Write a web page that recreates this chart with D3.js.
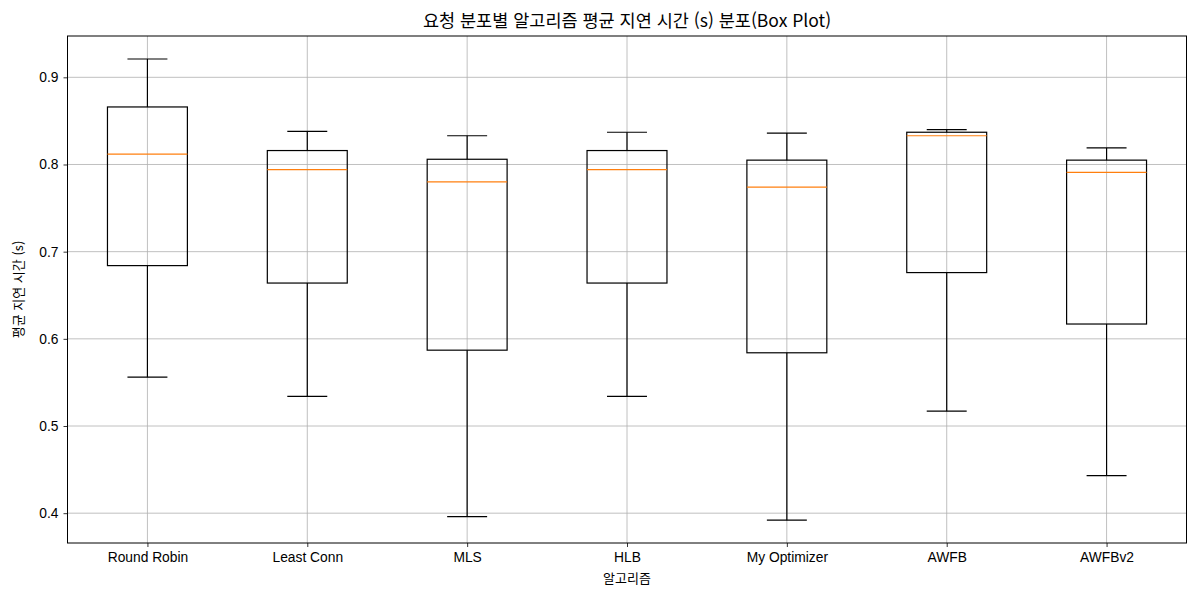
<!DOCTYPE html>
<html lang="ko">
<head>
<meta charset="UTF-8">
<title>요청 분포별 알고리즘 평균 지연 시간</title>
<style>
  body { margin: 0; background: #fff; font-family: "Noto Sans CJK KR", "Noto Sans", sans-serif; }
  svg { display: block; }
  .grid line { stroke: #b0b0b0; stroke-width: 0.8; }
  .axis text { font-size: 13.8px; fill: #000; }
</style>
</head>
<body>
<svg width="1200" height="600"></svg>
<script src="https://d3js.org/d3.v7.min.js"></script>
<script>
// box stats: whisker low, Q1, median, Q3, whisker high
const algorithms = ["Round Robin", "Least Conn", "MLS", "HLB", "My Optimizer", "AWFB", "AWFBv2"];
const whiskerLow = [0.556, 0.534, 0.396, 0.534, 0.392, 0.517, 0.443];
const q1         = [0.684, 0.664, 0.587, 0.664, 0.584, 0.676, 0.617];
const median     = [0.812, 0.794, 0.780, 0.794, 0.774, 0.833, 0.791];
const q3         = [0.866, 0.816, 0.806, 0.816, 0.805, 0.837, 0.805];
const whiskerHigh= [0.921, 0.838, 0.833, 0.837, 0.836, 0.840, 0.819];
const yTicks = [0.4, 0.5, 0.6, 0.7, 0.8, 0.9];

const svg = d3.select("svg");
const margin = { left: 67.5, right: 13.5, top: 36, bottom: 57 };
const W = 1200, H = 600;
const plotW = W - margin.left - margin.right;
const plotH = H - margin.top - margin.bottom;

const g = svg.append("g").attr("transform", `translate(${margin.left},${margin.top})`);

// positions 1..7 like matplotlib, xlim 0.5..7.5
const x = d3.scaleLinear().domain([0.5, algorithms.length + 0.5]).range([0, plotW]);
const y = d3.scaleLinear().domain([0.3658, 0.9474]).range([plotH, 0]);

// grid
const grid = g.append("g").attr("class", "grid");
grid.selectAll("line.h").data(yTicks).join("line").attr("class", "h")
  .attr("x1", 0).attr("x2", plotW)
  .attr("y1", d => y(d)).attr("y2", d => y(d));
grid.selectAll("line.v").data(algorithms).join("line").attr("class", "v")
  .attr("x1", (d, i) => x(i + 1)).attr("x2", (d, i) => x(i + 1))
  .attr("y1", 0).attr("y2", plotH);

// boxes
const boxW = x(1.5) - x(1);
const capW = x(1.25) - x(1);
const boxes = g.append("g").selectAll("g").data(algorithms).join("g")
  .attr("transform", (d, i) => `translate(${x(i + 1)},0)`);

boxes.append("line")
  .attr("x1", 0).attr("x2", 0)
  .attr("y1", (d, i) => y(whiskerLow[i])).attr("y2", (d, i) => y(q1[i]))
  .attr("stroke", "#000").attr("stroke-width", 1.2);
boxes.append("line")
  .attr("x1", 0).attr("x2", 0)
  .attr("y1", (d, i) => y(q3[i])).attr("y2", (d, i) => y(whiskerHigh[i]))
  .attr("stroke", "#000").attr("stroke-width", 1.2);
boxes.append("line")
  .attr("x1", -capW / 2).attr("x2", capW / 2)
  .attr("y1", (d, i) => y(whiskerLow[i])).attr("y2", (d, i) => y(whiskerLow[i]))
  .attr("stroke", "#000").attr("stroke-width", 1.2);
boxes.append("line")
  .attr("x1", -capW / 2).attr("x2", capW / 2)
  .attr("y1", (d, i) => y(whiskerHigh[i])).attr("y2", (d, i) => y(whiskerHigh[i]))
  .attr("stroke", "#000").attr("stroke-width", 1.2);
boxes.append("rect")
  .attr("x", -boxW / 2).attr("width", boxW)
  .attr("y", (d, i) => y(q3[i]))
  .attr("height", (d, i) => y(q1[i]) - y(q3[i]))
  .attr("fill", "none").attr("stroke", "#000").attr("stroke-width", 1.2);
boxes.append("line")
  .attr("x1", -boxW / 2).attr("x2", boxW / 2)
  .attr("y1", (d, i) => y(median[i])).attr("y2", (d, i) => y(median[i]))
  .attr("stroke", "#ff7f0e").attr("stroke-width", 1.2);

// axes
const yAxis = g.append("g").attr("class", "axis")
  .call(d3.axisLeft(y).tickValues(yTicks).tickFormat(d3.format(".1f")).tickSize(4).tickPadding(5));
const xAxis = g.append("g").attr("class", "axis")
  .attr("transform", `translate(0,${plotH})`)
  .call(d3.axisBottom(x).tickValues(d3.range(1, algorithms.length + 1))
    .tickFormat(d => algorithms[d - 1]).tickSize(4).tickPadding(5));
g.selectAll(".axis .domain").remove();
g.selectAll(".axis .tick line").attr("stroke", "#000").attr("stroke-width", 0.8);

// frame
g.append("rect").attr("width", plotW).attr("height", plotH)
  .attr("fill", "none").attr("stroke", "#000").attr("stroke-width", 1);

// labels
svg.append("text")
  .attr("x", margin.left + plotW / 2).attr("y", 27)
  .attr("text-anchor", "middle").attr("font-size", 17.5).attr("fill", "#000")
  .text("요청 분포별 알고리즘 평균 지연 시간 (s) 분포(Box Plot)");
svg.append("text")
  .attr("x", margin.left + plotW / 2).attr("y", 583)
  .attr("text-anchor", "middle").attr("font-size", 13).attr("fill", "#000")
  .text("알고리즘");
svg.append("text")
  .attr("transform", `translate(23,${margin.top + plotH / 2}) rotate(-90)`)
  .attr("text-anchor", "middle").attr("font-size", 13).attr("fill", "#000")
  .text("평균 지연 시간 (s)");
</script>
</body>
</html>
